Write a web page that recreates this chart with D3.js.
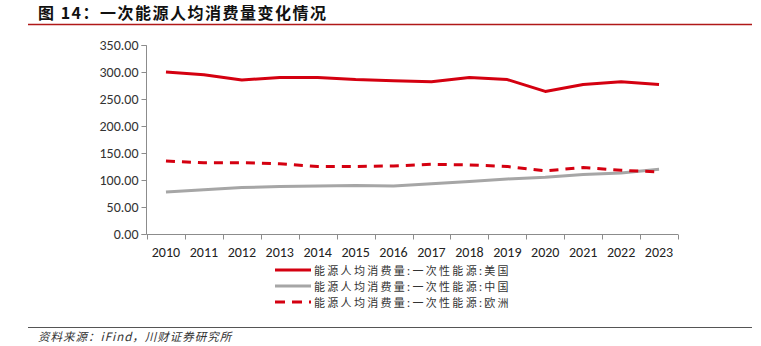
<!DOCTYPE html>
<html>
<head>
<meta charset="utf-8">
<script src="https://cdn.jsdelivr.net/npm/d3@7"></script>
<style>
  html, body { margin: 0; padding: 0; background: #fff; }
  svg { display: block; }
</style>
</head>
<body>
<svg id="chart" width="761" height="346"></svg>
<script>
// Per-capita primary energy consumption, 2010–2023
const years = ["2010","2011","2012","2013","2014","2015","2016","2017","2018","2019","2020","2021","2022","2023"];
const usValues = [300, 295, 285, 290, 290, 286, 284, 282, 290, 286, 264, 277, 282, 277];
const chinaValues = [78, 82, 86, 88, 89, 90, 89, 93, 97, 102, 105, 110, 113, 120];
const europeValues = [135, 132, 132, 130, 125, 125, 126, 129, 128, 125, 117, 123, 118, 115];
const yTicks = [0, 50, 100, 150, 200, 250, 300, 350];
const seriesNames = [
  "能源人均消费量:一次性能源:美国",
  "能源人均消费量:一次性能源:中国",
  "能源人均消费量:一次性能源:欧洲"
];

const svg = d3.select("#chart");
const RED = "#d40010";
const GREY = "#a6a6a6";
const tickFont = "Carlito, Calibri, 'Liberation Sans', Arial, sans-serif";
const cjkFont = "'Noto Sans CJK SC', sans-serif";

// Heading
svg.append("text")
  .attr("x", 38).attr("y", 19)
  .attr("font-family", cjkFont)
  .attr("font-weight", "bold")
  .attr("font-size", 16)
  .attr("letter-spacing", 1.5)
  .attr("fill", "#111")
  .text("图 14：一次能源人均消费量变化情况");
svg.append("line")
  .attr("x1", 28).attr("x2", 752).attr("y1", 24.5).attr("y2", 24.5)
  .attr("stroke", "#b01818").attr("stroke-width", 1.5);

// Scales
const x = d3.scaleBand().domain(years).range([147, 678]);
const y = d3.scaleLinear().domain([0, 350]).range([234, 45]);

// Y axis
const yAxis = d3.axisLeft(y).tickValues(yTicks).tickSize(5).tickPadding(3)
  .tickFormat(d3.format(".2f"));
const gy = svg.append("g").attr("transform", "translate(146.5,0)").call(yAxis);
gy.select(".domain").attr("stroke", "#8c8c8c").attr("d", "M-5,45.5H0V234.5H-5");
gy.selectAll(".tick line").attr("stroke", "#8c8c8c");
gy.selectAll(".tick text")
  .attr("font-family", tickFont).attr("font-size", 14).attr("fill", "#333");

// X axis with ticks between categories
const gx = svg.append("g").attr("transform", "translate(0,234.5)");
gx.append("line").attr("x1", 147).attr("x2", 678).attr("stroke", "#8c8c8c");
gx.selectAll("line.tk")
  .data(years.concat(["end"]))
  .join("line")
  .attr("class", "tk")
  .attr("x1", (d, i) => Math.round(147 + i * x.step()) + 0.5)
  .attr("x2", (d, i) => Math.round(147 + i * x.step()) + 0.5)
  .attr("y1", 0).attr("y2", 5)
  .attr("stroke", "#8c8c8c");
gx.selectAll("text")
  .data(years)
  .join("text")
  .attr("x", d => x(d) + x.bandwidth() / 2)
  .attr("y", 22)
  .attr("text-anchor", "middle")
  .attr("font-family", tickFont).attr("font-size", 14).attr("fill", "#222")
  .text(d => d);

// Lines
const line = d3.line()
  .x((d, i) => x(years[i]) + x.bandwidth() / 2)
  .y(d => y(d));

svg.append("path").datum(chinaValues)
  .attr("d", line).attr("fill", "none")
  .attr("stroke", GREY).attr("stroke-width", 3).attr("stroke-linejoin", "round");
svg.append("path").datum(europeValues)
  .attr("d", line).attr("fill", "none")
  .attr("stroke", RED).attr("stroke-width", 3).attr("stroke-dasharray", "9,7");
svg.append("path").datum(usValues)
  .attr("d", line).attr("fill", "none")
  .attr("stroke", RED).attr("stroke-width", 3).attr("stroke-linejoin", "round");

// Legend
const legendStyles = [
  { color: RED, dash: null },
  { color: GREY, dash: null },
  { color: RED, dash: "10,7" }
];
const lg = svg.append("g");
seriesNames.forEach((name, i) => {
  const ly = 270 + i * 16;
  lg.append("line")
    .attr("x1", 275).attr("x2", 311).attr("y1", ly).attr("y2", ly)
    .attr("stroke", legendStyles[i].color).attr("stroke-width", 3)
    .attr("stroke-dasharray", legendStyles[i].dash);
  lg.append("text")
    .attr("x", 314).attr("y", ly + 4.5)
    .attr("font-family", cjkFont).attr("font-size", 11)
    .attr("letter-spacing", 2.3).attr("fill", "#333")
    .text(name);
});

// Source note
svg.append("line")
  .attr("x1", 28).attr("x2", 752).attr("y1", 327.5).attr("y2", 327.5)
  .attr("stroke", "#555").attr("stroke-width", 1);
svg.append("text")
  .attr("x", 38).attr("y", 341)
  .attr("font-family", cjkFont).attr("font-style", "italic")
  .attr("font-size", 11.5).attr("letter-spacing", 1).attr("fill", "#333")
  .text("资料来源：iFind，川财证券研究所");
</script>
</body>
</html>
